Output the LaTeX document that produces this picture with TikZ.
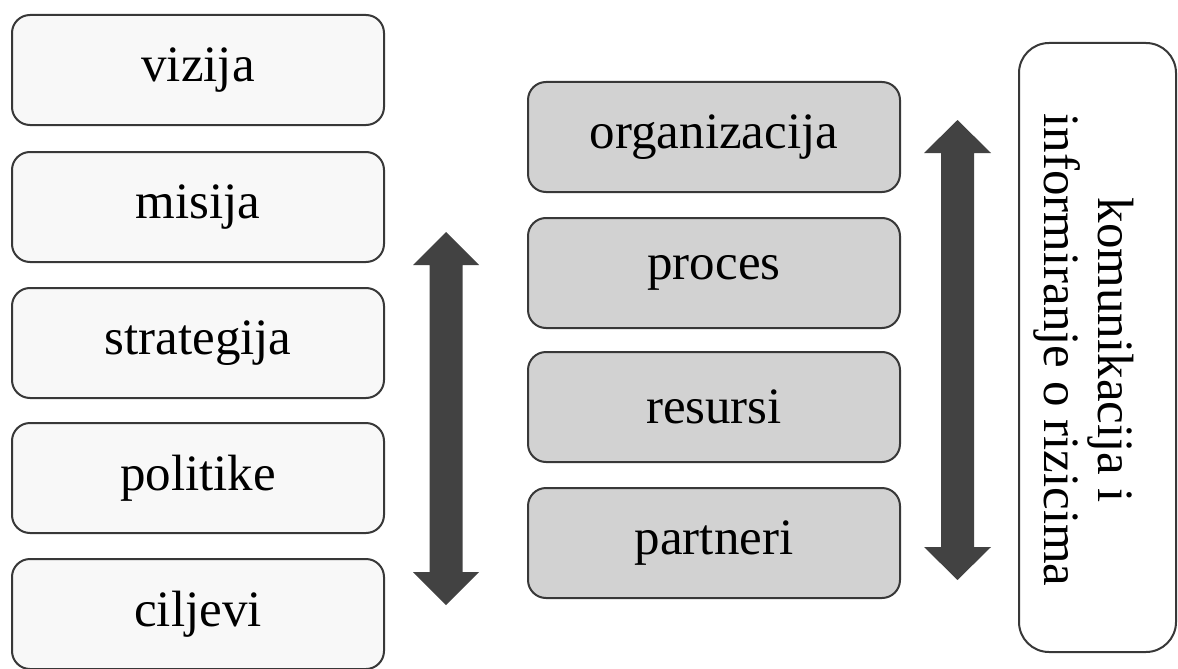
\documentclass[tikz,border=0pt]{standalone}
\usepackage{fontspec}
\setmainfont{Liberation Serif}
\definecolor{lightbox}{HTML}{F8F8F8}
\definecolor{graybox}{HTML}{D2D2D2}
\definecolor{edge}{HTML}{383838}
\definecolor{arrowc}{HTML}{424242}
\begin{document}
\begin{tikzpicture}[x=1pt,y=-1pt,
  box/.style={draw=edge, line width=2pt, rounded corners=18pt, minimum width=372pt, minimum height=110pt, inner sep=0pt, font=\fontsize{51}{60}\selectfont},
  whitebox/.style={box, fill=lightbox},
  greybox/.style={box, fill=graybox},
  bigarrow/.style={fill=arrowc}]
\useasboundingbox (0,0) rectangle (1178,669);
% left column
\node[whitebox] (vizija) at (198,70) {vizija};
\node[whitebox] (misija) at (198,207) {misija};
\node[whitebox] (strategija) at (198,343) {strategija};
\node[whitebox] (politike) at (198,478) {politike};
\node[whitebox] (ciljevi) at (198,614) {ciljevi};
% middle column
\node[greybox] (organizacija) at (714,137) {organizacija};
\node[greybox] (proces) at (714,273) {proces};
\node[greybox] (resursi) at (714,407) {resursi};
\node[greybox] (partneri) at (714,543) {partneri};
% right tall box
\draw[edge, line width=2pt, fill=white, rounded corners=30pt] (1019,43) rectangle (1176,652);
\node[rotate=-90, align=center, font=\fontsize{51}{54}\selectfont, inner sep=0pt] (komunikacija) at (1084,350) {komunikacija i\\informiranje o rizicima};
% left double arrow
\fill[bigarrow] (446,232) -- (479,265) -- (462.5,265) -- (462.5,572) -- (479,572) -- (446,605) -- (413,572) -- (429.5,572) -- (429.5,265) -- (413,265) -- cycle;
% right double arrow
\fill[bigarrow] (957.5,120) -- (991,153) -- (974,153) -- (974,547) -- (991,547) -- (957.5,580) -- (924,547) -- (941,547) -- (941,153) -- (924,153) -- cycle;
\end{tikzpicture}
\end{document}
